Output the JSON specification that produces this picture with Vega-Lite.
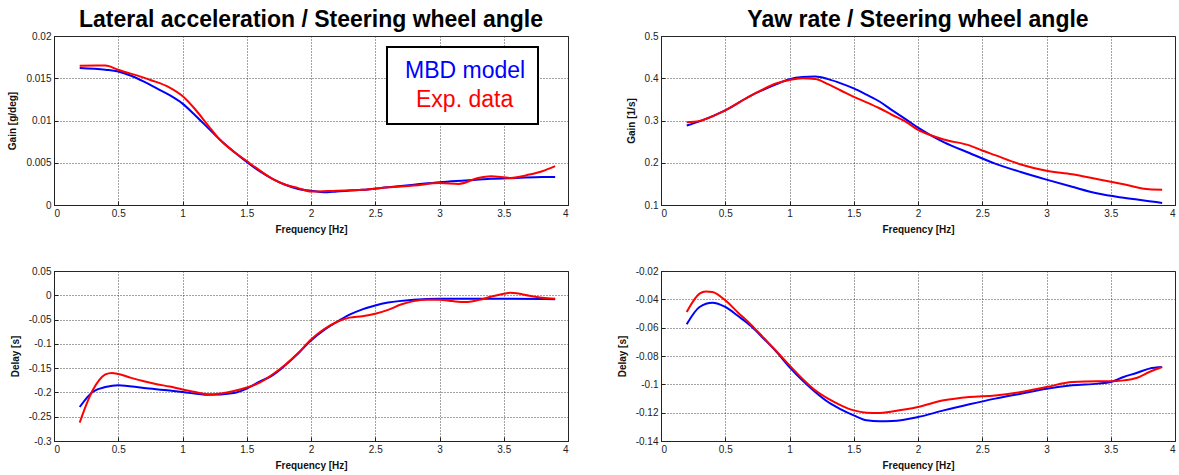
{
  "$schema": "https://vega.github.io/schema/vega-lite/v6.json",
  "background": "white",
  "padding": {"left": 7, "top": 8, "right": 5, "bottom": 2},
  "config": {
    "locale": {"number": {"decimal": ".", "thousands": ",", "grouping": [3], "currency": ["$", ""], "minus": "-"}},
    "view": {"stroke": "#222", "strokeWidth": 1},
    "font": "Liberation Sans",
    "axis": {
      "labelFont": "Liberation Sans", "labelFontSize": 10, "labelColor": "#222",
      "titleFont": "Liberation Sans", "titleFontSize": 10, "titleFontWeight": "bold", "titleColor": "#111",
      "grid": true, "gridColor": "#333", "gridDash": [1, 2], "gridOpacity": 0.9,
      "domainColor": "#222", "tickColor": "#222", "tickSize": -4, "labelPadding": 7
    },
    "axisX": {"titlePadding": 6},
    "axisY": {"titlePadding": 8},
    "title": {"font": "Liberation Sans", "fontSize": 23, "fontWeight": "bold", "color": "#000", "anchor": "middle", "offset": -1}
  },
  "data": {"values": [
    {"p":"lg","s":"MBD model","f":0.2,"v":0.0162},{"p":"lg","s":"MBD model","f":0.4,"v":0.0160},{"p":"lg","s":"MBD model","f":0.5,"v":0.0158},{"p":"lg","s":"MBD model","f":0.6,"v":0.0153},{"p":"lg","s":"MBD model","f":0.7,"v":0.0146},{"p":"lg","s":"MBD model","f":0.8,"v":0.0138},{"p":"lg","s":"MBD model","f":0.9,"v":0.0130},{"p":"lg","s":"MBD model","f":1.0,"v":0.0120},{"p":"lg","s":"MBD model","f":1.1,"v":0.0106},{"p":"lg","s":"MBD model","f":1.2,"v":0.0091},{"p":"lg","s":"MBD model","f":1.3,"v":0.0076},{"p":"lg","s":"MBD model","f":1.4,"v":0.0063},{"p":"lg","s":"MBD model","f":1.5,"v":0.0051},{"p":"lg","s":"MBD model","f":1.6,"v":0.0040},{"p":"lg","s":"MBD model","f":1.7,"v":0.0031},{"p":"lg","s":"MBD model","f":1.8,"v":0.0024},{"p":"lg","s":"MBD model","f":1.9,"v":0.0019},{"p":"lg","s":"MBD model","f":2.0,"v":0.0017},{"p":"lg","s":"MBD model","f":2.1,"v":0.0015},{"p":"lg","s":"MBD model","f":2.2,"v":0.0016},{"p":"lg","s":"MBD model","f":2.4,"v":0.0018},{"p":"lg","s":"MBD model","f":2.6,"v":0.0021},{"p":"lg","s":"MBD model","f":2.8,"v":0.0024},{"p":"lg","s":"MBD model","f":3.0,"v":0.0027},{"p":"lg","s":"MBD model","f":3.2,"v":0.0029},{"p":"lg","s":"MBD model","f":3.4,"v":0.0031},{"p":"lg","s":"MBD model","f":3.6,"v":0.0032},{"p":"lg","s":"MBD model","f":3.8,"v":0.0033},{"p":"lg","s":"MBD model","f":3.9,"v":0.0033},
    {"p":"lg","s":"Exp. data","f":0.2,"v":0.01648},{"p":"lg","s":"Exp. data","f":0.4,"v":0.0165},{"p":"lg","s":"Exp. data","f":0.5,"v":0.0160},{"p":"lg","s":"Exp. data","f":0.75,"v":0.0148},{"p":"lg","s":"Exp. data","f":0.9,"v":0.0139},{"p":"lg","s":"Exp. data","f":1.0,"v":0.0129},{"p":"lg","s":"Exp. data","f":1.1,"v":0.0113},{"p":"lg","s":"Exp. data","f":1.2,"v":0.0094},{"p":"lg","s":"Exp. data","f":1.3,"v":0.0076},{"p":"lg","s":"Exp. data","f":1.4,"v":0.0063},{"p":"lg","s":"Exp. data","f":1.5,"v":0.0052},{"p":"lg","s":"Exp. data","f":1.6,"v":0.0041},{"p":"lg","s":"Exp. data","f":1.7,"v":0.0031},{"p":"lg","s":"Exp. data","f":1.8,"v":0.0024},{"p":"lg","s":"Exp. data","f":1.9,"v":0.0020},{"p":"lg","s":"Exp. data","f":2.0,"v":0.0016},{"p":"lg","s":"Exp. data","f":2.2,"v":0.0017},{"p":"lg","s":"Exp. data","f":2.4,"v":0.0018},{"p":"lg","s":"Exp. data","f":2.6,"v":0.0021},{"p":"lg","s":"Exp. data","f":2.8,"v":0.0023},{"p":"lg","s":"Exp. data","f":3.0,"v":0.0026},{"p":"lg","s":"Exp. data","f":3.15,"v":0.0025},{"p":"lg","s":"Exp. data","f":3.3,"v":0.0032},{"p":"lg","s":"Exp. data","f":3.4,"v":0.0034},{"p":"lg","s":"Exp. data","f":3.55,"v":0.0032},{"p":"lg","s":"Exp. data","f":3.7,"v":0.0036},{"p":"lg","s":"Exp. data","f":3.8,"v":0.0040},{"p":"lg","s":"Exp. data","f":3.9,"v":0.0046},
    {"p":"yg","s":"MBD model","f":0.2,"v":0.288},{"p":"yg","s":"MBD model","f":0.3,"v":0.298},{"p":"yg","s":"MBD model","f":0.5,"v":0.324},{"p":"yg","s":"MBD model","f":0.7,"v":0.359},{"p":"yg","s":"MBD model","f":0.9,"v":0.386},{"p":"yg","s":"MBD model","f":1.0,"v":0.398},{"p":"yg","s":"MBD model","f":1.1,"v":0.403},{"p":"yg","s":"MBD model","f":1.2,"v":0.404},{"p":"yg","s":"MBD model","f":1.3,"v":0.398},{"p":"yg","s":"MBD model","f":1.4,"v":0.388},{"p":"yg","s":"MBD model","f":1.5,"v":0.376},{"p":"yg","s":"MBD model","f":1.6,"v":0.361},{"p":"yg","s":"MBD model","f":1.7,"v":0.345},{"p":"yg","s":"MBD model","f":1.8,"v":0.324},{"p":"yg","s":"MBD model","f":1.9,"v":0.304},{"p":"yg","s":"MBD model","f":2.0,"v":0.283},{"p":"yg","s":"MBD model","f":2.1,"v":0.265},{"p":"yg","s":"MBD model","f":2.2,"v":0.249},{"p":"yg","s":"MBD model","f":2.4,"v":0.223},{"p":"yg","s":"MBD model","f":2.6,"v":0.198},{"p":"yg","s":"MBD model","f":2.8,"v":0.178},{"p":"yg","s":"MBD model","f":3.0,"v":0.160},{"p":"yg","s":"MBD model","f":3.2,"v":0.143},{"p":"yg","s":"MBD model","f":3.4,"v":0.127},{"p":"yg","s":"MBD model","f":3.6,"v":0.117},{"p":"yg","s":"MBD model","f":3.8,"v":0.109},{"p":"yg","s":"MBD model","f":3.9,"v":0.105},
    {"p":"yg","s":"Exp. data","f":0.2,"v":0.296},{"p":"yg","s":"Exp. data","f":0.3,"v":0.299},{"p":"yg","s":"Exp. data","f":0.5,"v":0.324},{"p":"yg","s":"Exp. data","f":0.7,"v":0.359},{"p":"yg","s":"Exp. data","f":0.9,"v":0.388},{"p":"yg","s":"Exp. data","f":1.0,"v":0.396},{"p":"yg","s":"Exp. data","f":1.1,"v":0.400},{"p":"yg","s":"Exp. data","f":1.2,"v":0.398},{"p":"yg","s":"Exp. data","f":1.3,"v":0.386},{"p":"yg","s":"Exp. data","f":1.4,"v":0.371},{"p":"yg","s":"Exp. data","f":1.5,"v":0.356},{"p":"yg","s":"Exp. data","f":1.6,"v":0.343},{"p":"yg","s":"Exp. data","f":1.7,"v":0.329},{"p":"yg","s":"Exp. data","f":1.8,"v":0.313},{"p":"yg","s":"Exp. data","f":1.9,"v":0.298},{"p":"yg","s":"Exp. data","f":2.0,"v":0.278},{"p":"yg","s":"Exp. data","f":2.1,"v":0.265},{"p":"yg","s":"Exp. data","f":2.2,"v":0.255},{"p":"yg","s":"Exp. data","f":2.4,"v":0.241},{"p":"yg","s":"Exp. data","f":2.5,"v":0.229},{"p":"yg","s":"Exp. data","f":2.6,"v":0.218},{"p":"yg","s":"Exp. data","f":2.8,"v":0.196},{"p":"yg","s":"Exp. data","f":3.0,"v":0.181},{"p":"yg","s":"Exp. data","f":3.2,"v":0.173},{"p":"yg","s":"Exp. data","f":3.4,"v":0.161},{"p":"yg","s":"Exp. data","f":3.6,"v":0.149},{"p":"yg","s":"Exp. data","f":3.8,"v":0.137},{"p":"yg","s":"Exp. data","f":3.9,"v":0.136},
    {"p":"ld","s":"MBD model","f":0.2,"v":-0.230},{"p":"ld","s":"MBD model","f":0.3,"v":-0.199},{"p":"ld","s":"MBD model","f":0.4,"v":-0.189},{"p":"ld","s":"MBD model","f":0.5,"v":-0.185},{"p":"ld","s":"MBD model","f":0.7,"v":-0.191},{"p":"ld","s":"MBD model","f":0.9,"v":-0.196},{"p":"ld","s":"MBD model","f":1.0,"v":-0.199},{"p":"ld","s":"MBD model","f":1.2,"v":-0.205},{"p":"ld","s":"MBD model","f":1.4,"v":-0.201},{"p":"ld","s":"MBD model","f":1.5,"v":-0.192},{"p":"ld","s":"MBD model","f":1.6,"v":-0.178},{"p":"ld","s":"MBD model","f":1.7,"v":-0.165},{"p":"ld","s":"MBD model","f":1.8,"v":-0.144},{"p":"ld","s":"MBD model","f":1.9,"v":-0.120},{"p":"ld","s":"MBD model","f":2.0,"v":-0.093},{"p":"ld","s":"MBD model","f":2.1,"v":-0.072},{"p":"ld","s":"MBD model","f":2.2,"v":-0.055},{"p":"ld","s":"MBD model","f":2.3,"v":-0.040},{"p":"ld","s":"MBD model","f":2.4,"v":-0.029},{"p":"ld","s":"MBD model","f":2.5,"v":-0.021},{"p":"ld","s":"MBD model","f":2.6,"v":-0.015},{"p":"ld","s":"MBD model","f":2.8,"v":-0.009},{"p":"ld","s":"MBD model","f":3.0,"v":-0.007},{"p":"ld","s":"MBD model","f":3.2,"v":-0.007},{"p":"ld","s":"MBD model","f":3.5,"v":-0.007},{"p":"ld","s":"MBD model","f":3.9,"v":-0.008},
    {"p":"ld","s":"Exp. data","f":0.2,"v":-0.262},{"p":"ld","s":"Exp. data","f":0.25,"v":-0.226},{"p":"ld","s":"Exp. data","f":0.3,"v":-0.196},{"p":"ld","s":"Exp. data","f":0.35,"v":-0.175},{"p":"ld","s":"Exp. data","f":0.4,"v":-0.163},{"p":"ld","s":"Exp. data","f":0.45,"v":-0.160},{"p":"ld","s":"Exp. data","f":0.5,"v":-0.162},{"p":"ld","s":"Exp. data","f":0.6,"v":-0.170},{"p":"ld","s":"Exp. data","f":0.7,"v":-0.177},{"p":"ld","s":"Exp. data","f":0.8,"v":-0.183},{"p":"ld","s":"Exp. data","f":0.9,"v":-0.188},{"p":"ld","s":"Exp. data","f":1.0,"v":-0.194},{"p":"ld","s":"Exp. data","f":1.1,"v":-0.199},{"p":"ld","s":"Exp. data","f":1.2,"v":-0.204},{"p":"ld","s":"Exp. data","f":1.3,"v":-0.202},{"p":"ld","s":"Exp. data","f":1.4,"v":-0.197},{"p":"ld","s":"Exp. data","f":1.5,"v":-0.190},{"p":"ld","s":"Exp. data","f":1.6,"v":-0.180},{"p":"ld","s":"Exp. data","f":1.7,"v":-0.163},{"p":"ld","s":"Exp. data","f":1.8,"v":-0.143},{"p":"ld","s":"Exp. data","f":1.9,"v":-0.119},{"p":"ld","s":"Exp. data","f":2.0,"v":-0.091},{"p":"ld","s":"Exp. data","f":2.1,"v":-0.070},{"p":"ld","s":"Exp. data","f":2.2,"v":-0.055},{"p":"ld","s":"Exp. data","f":2.3,"v":-0.046},{"p":"ld","s":"Exp. data","f":2.4,"v":-0.043},{"p":"ld","s":"Exp. data","f":2.5,"v":-0.038},{"p":"ld","s":"Exp. data","f":2.6,"v":-0.030},{"p":"ld","s":"Exp. data","f":2.7,"v":-0.019},{"p":"ld","s":"Exp. data","f":2.8,"v":-0.012},{"p":"ld","s":"Exp. data","f":2.9,"v":-0.009},{"p":"ld","s":"Exp. data","f":3.0,"v":-0.009},{"p":"ld","s":"Exp. data","f":3.1,"v":-0.012},{"p":"ld","s":"Exp. data","f":3.2,"v":-0.014},{"p":"ld","s":"Exp. data","f":3.3,"v":-0.010},{"p":"ld","s":"Exp. data","f":3.4,"v":-0.003},{"p":"ld","s":"Exp. data","f":3.5,"v":0.003},{"p":"ld","s":"Exp. data","f":3.55,"v":0.005},{"p":"ld","s":"Exp. data","f":3.6,"v":0.004},{"p":"ld","s":"Exp. data","f":3.7,"v":-0.001},{"p":"ld","s":"Exp. data","f":3.8,"v":-0.005},{"p":"ld","s":"Exp. data","f":3.9,"v":-0.007},
    {"p":"yd","s":"MBD model","f":0.2,"v":-0.0576},{"p":"yd","s":"MBD model","f":0.3,"v":-0.0454},{"p":"yd","s":"MBD model","f":0.4,"v":-0.0424},{"p":"yd","s":"MBD model","f":0.5,"v":-0.0454},{"p":"yd","s":"MBD model","f":0.6,"v":-0.0518},{"p":"yd","s":"MBD model","f":0.7,"v":-0.0588},{"p":"yd","s":"MBD model","f":0.8,"v":-0.0678},{"p":"yd","s":"MBD model","f":0.9,"v":-0.0772},{"p":"yd","s":"MBD model","f":1.0,"v":-0.0878},{"p":"yd","s":"MBD model","f":1.1,"v":-0.0972},{"p":"yd","s":"MBD model","f":1.2,"v":-0.1054},{"p":"yd","s":"MBD model","f":1.3,"v":-0.1125},{"p":"yd","s":"MBD model","f":1.4,"v":-0.1176},{"p":"yd","s":"MBD model","f":1.5,"v":-0.1219},{"p":"yd","s":"MBD model","f":1.6,"v":-0.1254},{"p":"yd","s":"MBD model","f":1.7,"v":-0.1261},{"p":"yd","s":"MBD model","f":1.8,"v":-0.1259},{"p":"yd","s":"MBD model","f":2.0,"v":-0.1231},{"p":"yd","s":"MBD model","f":2.2,"v":-0.1184},{"p":"yd","s":"MBD model","f":2.4,"v":-0.1141},{"p":"yd","s":"MBD model","f":2.6,"v":-0.1101},{"p":"yd","s":"MBD model","f":2.8,"v":-0.1066},{"p":"yd","s":"MBD model","f":3.0,"v":-0.1031},{"p":"yd","s":"MBD model","f":3.2,"v":-0.1007},{"p":"yd","s":"MBD model","f":3.4,"v":-0.0995},{"p":"yd","s":"MBD model","f":3.5,"v":-0.0984},{"p":"yd","s":"MBD model","f":3.6,"v":-0.0948},{"p":"yd","s":"MBD model","f":3.7,"v":-0.0920},{"p":"yd","s":"MBD model","f":3.8,"v":-0.0889},{"p":"yd","s":"MBD model","f":3.9,"v":-0.0878},
    {"p":"yd","s":"Exp. data","f":0.2,"v":-0.0489},{"p":"yd","s":"Exp. data","f":0.3,"v":-0.0360},{"p":"yd","s":"Exp. data","f":0.35,"v":-0.0344},{"p":"yd","s":"Exp. data","f":0.4,"v":-0.0348},{"p":"yd","s":"Exp. data","f":0.5,"v":-0.0407},{"p":"yd","s":"Exp. data","f":0.6,"v":-0.0494},{"p":"yd","s":"Exp. data","f":0.7,"v":-0.0579},{"p":"yd","s":"Exp. data","f":0.8,"v":-0.0673},{"p":"yd","s":"Exp. data","f":0.9,"v":-0.0767},{"p":"yd","s":"Exp. data","f":1.0,"v":-0.0866},{"p":"yd","s":"Exp. data","f":1.1,"v":-0.0960},{"p":"yd","s":"Exp. data","f":1.2,"v":-0.1042},{"p":"yd","s":"Exp. data","f":1.3,"v":-0.1101},{"p":"yd","s":"Exp. data","f":1.4,"v":-0.1148},{"p":"yd","s":"Exp. data","f":1.5,"v":-0.1184},{"p":"yd","s":"Exp. data","f":1.6,"v":-0.1200},{"p":"yd","s":"Exp. data","f":1.7,"v":-0.1202},{"p":"yd","s":"Exp. data","f":1.8,"v":-0.1191},{"p":"yd","s":"Exp. data","f":2.0,"v":-0.1160},{"p":"yd","s":"Exp. data","f":2.2,"v":-0.1113},{"p":"yd","s":"Exp. data","f":2.4,"v":-0.1089},{"p":"yd","s":"Exp. data","f":2.6,"v":-0.1078},{"p":"yd","s":"Exp. data","f":2.8,"v":-0.1054},{"p":"yd","s":"Exp. data","f":3.0,"v":-0.1019},{"p":"yd","s":"Exp. data","f":3.2,"v":-0.0984},{"p":"yd","s":"Exp. data","f":3.4,"v":-0.0979},{"p":"yd","s":"Exp. data","f":3.5,"v":-0.0979},{"p":"yd","s":"Exp. data","f":3.6,"v":-0.0972},{"p":"yd","s":"Exp. data","f":3.7,"v":-0.0955},{"p":"yd","s":"Exp. data","f":3.8,"v":-0.0913},{"p":"yd","s":"Exp. data","f":3.9,"v":-0.0878}
  ]},
  "columns": 2,
  "spacing": {"row": 30, "column": 47},
  "resolve": {"scale": {"color": "independent", "x": "independent", "y": "independent"}, "legend": {"color": "independent"}},
  "concat": [
    {
      "width": 514, "height": 169,
      "title": "Lateral acceleration / Steering wheel angle",
      "transform": [{"filter": "datum.p === 'lg'"}],
      "mark": {"type": "line", "strokeWidth": 2, "interpolate": "monotone"},
      "encoding": {
        "x": {"field": "f", "type": "quantitative", "scale": {"domain": [0, 4], "nice": false}, "axis": {"title": "Frequency [Hz]", "values": [0, 0.5, 1, 1.5, 2, 2.5, 3, 3.5, 4], "format": "~g"}},
        "y": {"field": "v", "type": "quantitative", "scale": {"domain": [0, 0.02], "nice": false, "zero": false}, "axis": {"title": "Gain [g/deg]", "values": [0, 0.005, 0.01, 0.015, 0.02], "format": "~g"}},
        "color": {"field": "s", "type": "nominal", "sort": ["MBD model", "Exp. data"],
          "scale": {"domain": ["MBD model", "Exp. data"], "range": ["#0000ff", "#ff0000"]},
          "legend": {"orient": "none", "legendX": 333, "legendY": 11, "title": null, "symbolSize": 0, "symbolOpacity": 0, "symbolStrokeWidth": 0,
            "labelFont": "Liberation Sans", "labelFontSize": 23, "labelOffset": -17, "labelLimit": 300,
            "strokeColor": "#000", "fillColor": "#fff", "padding": 12, "rowPadding": 5,
            "encode": {"labels": {"update": {"fill": {"signal": "datum.value === 'MBD model' ? '#0000ff' : '#ff0000'"}, "dx": {"signal": "datum.value === 'Exp. data' ? 11 : 0"}}}, "legend": {"update": {"strokeWidth": {"value": 2}}}}}}
      }
    },
    {
      "width": 514, "height": 169,
      "title": "Yaw rate / Steering wheel angle",
      "transform": [{"filter": "datum.p === 'yg'"}],
      "mark": {"type": "line", "strokeWidth": 2, "interpolate": "monotone"},
      "encoding": {
        "x": {"field": "f", "type": "quantitative", "scale": {"domain": [0, 4], "nice": false}, "axis": {"title": "Frequency [Hz]", "values": [0, 0.5, 1, 1.5, 2, 2.5, 3, 3.5, 4], "format": "~g"}},
        "y": {"field": "v", "type": "quantitative", "scale": {"domain": [0.1, 0.5], "nice": false, "zero": false}, "axis": {"title": "Gain [1/s]", "values": [0.1, 0.2, 0.3, 0.4, 0.5], "format": "~g"}},
        "color": {"field": "s", "type": "nominal", "sort": ["MBD model", "Exp. data"], "scale": {"domain": ["MBD model", "Exp. data"], "range": ["#0000ff", "#ff0000"]}, "legend": null}
      }
    },
    {
      "width": 514, "height": 170,
      "transform": [{"filter": "datum.p === 'ld'"}],
      "mark": {"type": "line", "strokeWidth": 2, "interpolate": "monotone"},
      "encoding": {
        "x": {"field": "f", "type": "quantitative", "scale": {"domain": [0, 4], "nice": false}, "axis": {"title": "Frequency [Hz]", "values": [0, 0.5, 1, 1.5, 2, 2.5, 3, 3.5, 4], "format": "~g"}},
        "y": {"field": "v", "type": "quantitative", "scale": {"domain": [-0.3, 0.05], "nice": false, "zero": false}, "axis": {"title": "Delay [s]", "values": [-0.3, -0.25, -0.2, -0.15, -0.1, -0.05, 0, 0.05], "format": "~g"}},
        "color": {"field": "s", "type": "nominal", "sort": ["MBD model", "Exp. data"], "scale": {"domain": ["MBD model", "Exp. data"], "range": ["#0000ff", "#ff0000"]}, "legend": null}
      }
    },
    {
      "width": 514, "height": 170,
      "transform": [{"filter": "datum.p === 'yd'"}],
      "mark": {"type": "line", "strokeWidth": 2, "interpolate": "monotone"},
      "encoding": {
        "x": {"field": "f", "type": "quantitative", "scale": {"domain": [0, 4], "nice": false}, "axis": {"title": "Frequency [Hz]", "values": [0, 0.5, 1, 1.5, 2, 2.5, 3, 3.5, 4], "format": "~g"}},
        "y": {"field": "v", "type": "quantitative", "scale": {"domain": [-0.14, -0.02], "nice": false, "zero": false}, "axis": {"title": "Delay [s]", "values": [-0.14, -0.12, -0.1, -0.08, -0.06, -0.04, -0.02], "format": "~g"}},
        "color": {"field": "s", "type": "nominal", "sort": ["MBD model", "Exp. data"], "scale": {"domain": ["MBD model", "Exp. data"], "range": ["#0000ff", "#ff0000"]}, "legend": null}
      }
    }
  ]
}
